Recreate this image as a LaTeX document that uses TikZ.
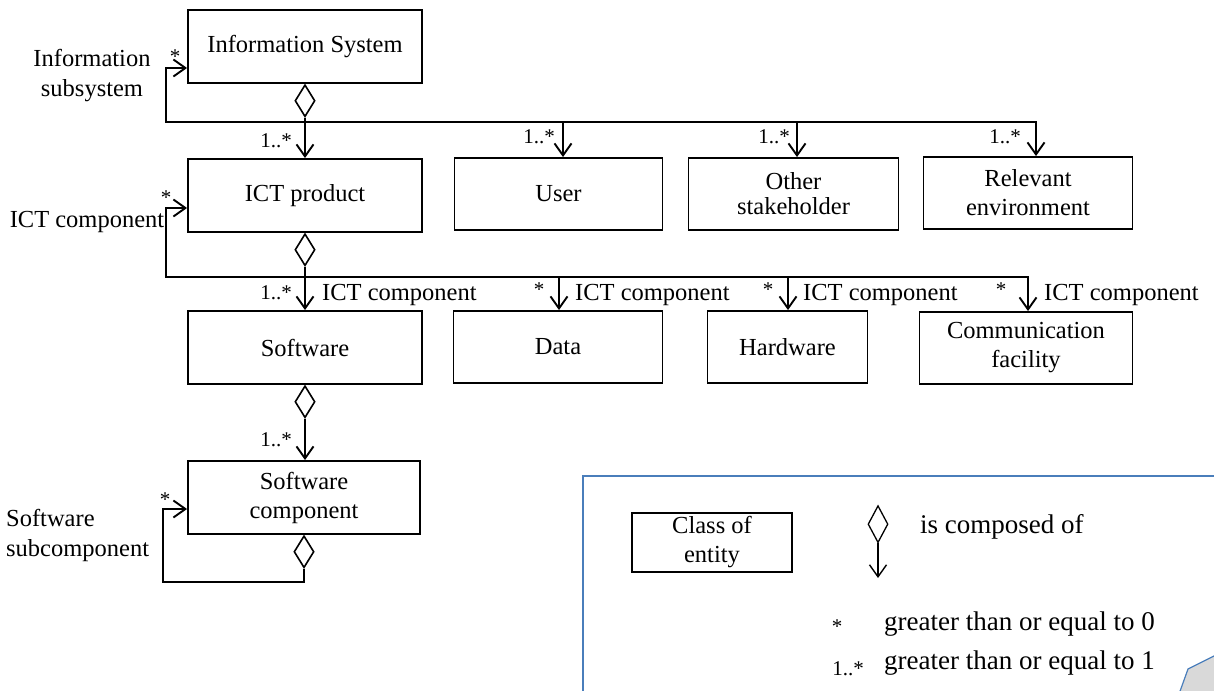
\documentclass[tikz,border=0pt]{standalone}
\usepackage{fontspec}
\setmainfont{Liberation Serif}
\usetikzlibrary{arrows.meta,shapes.geometric,positioning}
\definecolor{legblue}{RGB}{74,126,187}
\tikzset{>={Straight Barb[length=12pt,width=17pt]},
  entity/.style={draw,line width=1.9pt,align=center,minimum height=73pt,
    inner sep=2pt,font=\fontsize{24.5}{29}\selectfont},
  agg/.style={draw,diamond,line width=1.6pt,minimum width=20pt,
    minimum height=32pt,inner sep=0pt,anchor=north},
  link/.style={->,line width=1.9pt},
  mult/.style={inner sep=0pt,font=\fontsize{21}{24}\selectfont},
  role/.style={inner sep=0pt,font=\fontsize{24.5}{30}\selectfont}
}

\begin{document}
\begin{tikzpicture}[x=1pt,y=-1pt]
    \clip (0,0) rectangle (1214,690);

    % classes
    \node[entity,minimum width=234pt] (infosys) at (305,46.5) {Information System};
    \node[entity,minimum width=234pt] (ictprod) at (305,195.5) {ICT product};
    \node[entity,minimum width=208pt,minimum height=72pt] (user) at (558.5,194) {User};
    \node[entity,minimum width=210pt,minimum height=72pt] (stake) at (793.5,194) {Other\\[-4pt]stakeholder};
    \node[entity,minimum width=209pt,minimum height=72pt] (env) at (1028,193) {Relevant\\environment};
    \node[entity,minimum width=234pt] (sw) at (305,347.5) {Software};
    \node[entity,minimum width=209pt,minimum height=72pt] (data) at (558,347) {Data};
    \node[entity,minimum width=160pt,minimum height=72pt] (hw) at (787.5,347) {Hardware};
    \node[entity,minimum width=213pt,minimum height=72pt] (comm) at (1026,348) {Communication\\facility};
    \node[entity,minimum width=232pt] (swcomp) at (304,497.5) {Software\\component};

    % aggregation diamonds
    \node[agg] (d1) at (infosys.south) {};
    \node[agg] (d2) at (ictprod.south) {};
    \node[agg] (d3) at (sw.south) {};
    \node[agg] (d4) at (swcomp.south) {};

    % Information System level
    \coordinate (b1) at (305,122);
    \coordinate (l1) at (166,68);
    \coordinate (r1) at (1036,122);
    \coordinate (u1) at (563,122);
    \coordinate (o1) at (797,122);
    \draw[link] (d1.south) -- (ictprod.north);
    \draw[link] (b1) -| (l1) -- (l1 -| infosys.west);
    \draw[link] (b1) -- (r1) -- (r1 |- env.north);
    \draw[link] (u1) -- (u1 |- user.north);
    \draw[link] (o1) -- (o1 |- stake.north);

    % ICT product level
    \coordinate (b2) at (305,277);
    \coordinate (l2) at (166,208);
    \coordinate (r2) at (1028,277);
    \coordinate (u2) at (559,277);
    \coordinate (h2) at (788,277);
    \draw[link] (d2.south) -- (sw.north);
    \draw[link] (b2) -| (l2) -- (l2 -| ictprod.west);
    \draw[link] (b2) -- (r2) -- (r2 |- comm.north);
    \draw[link] (u2) -- (u2 |- data.north);
    \draw[link] (h2) -- (h2 |- hw.north);

    % software level
    \coordinate (b4) at (303,582);
    \coordinate (l4) at (163,509);
    \draw[link] (d3.south) -- (d3.south |- swcomp.north);
    \draw[link] (d4.south) -- (d4.south |- b4) -| (l4) -- (l4 -| swcomp.west);

    % multiplicities and roles
    \node[mult] (m1) at (175,57) {*};
    \node[role,align=center] (n1) at (92,76) {Information\\subsystem};
    \node[mult] (m2) at (276,141) {1..*};
    \node[mult] (m3) at (539,137) {1..*};
    \node[mult] (m4) at (774,137) {1..*};
    \node[mult] (m5) at (1005,137) {1..*};
    \node[mult] (m6) at (166,198) {*};
    \node[role] (n2) at (87,222) {ICT component};
    \node[mult] (m7) at (276,293) {1..*};
    \node[role,anchor=west] (n3) at (322,295) {ICT component};
    \node[mult] (m8) at (539,290) {*};
    \node[role,anchor=west] (n4) at (575,295) {ICT component};
    \node[mult] (m9) at (768,290) {*};
    \node[role,anchor=west] (n5) at (803,295) {ICT component};
    \node[mult] (m10) at (1001,290) {*};
    \node[role,anchor=west] (n6) at (1044,295) {ICT component};
    \node[mult] (m11) at (276,440) {1..*};
    \node[mult] (m12) at (165,500) {*};
    \node[role,align=left,anchor=west] (n7) at (6,535) {Software\\subcomponent};

    % key
    \draw[legblue,line width=1.5pt] (583,476) rectangle (1240,720);
    \node[entity,minimum width=160pt,minimum height=59pt,line width=1.6pt] (cls) at (712,542.5) {Class of\\entity};
    \node[agg,minimum height=37pt,line width=1.3pt] (d5) at (878,505) {};
    \coordinate (e5) at (878,578);
    \draw[link,line width=1.4pt] (d5.south) -- (e5);
    \node[role,anchor=west,font=\fontsize{27}{32}\selectfont] (k1) at (920,527) {is composed of};
    \node[mult] (m13) at (837,627) {*};
    \node[role,anchor=west,font=\fontsize{27}{32}\selectfont] (k2) at (884,624) {greater than or equal to 0};
    \node[mult] (m14) at (848,669) {1..*};
    \node[role,anchor=west,font=\fontsize{27}{32}\selectfont] (k3) at (884,663) {greater than or equal to 1};
    \filldraw[fill=gray!30,draw=legblue,line width=1.2pt] (1179,694) -- (1188,669) -- (1218,654) -- (1218,694) -- cycle;
\end{tikzpicture}
\end{document}
